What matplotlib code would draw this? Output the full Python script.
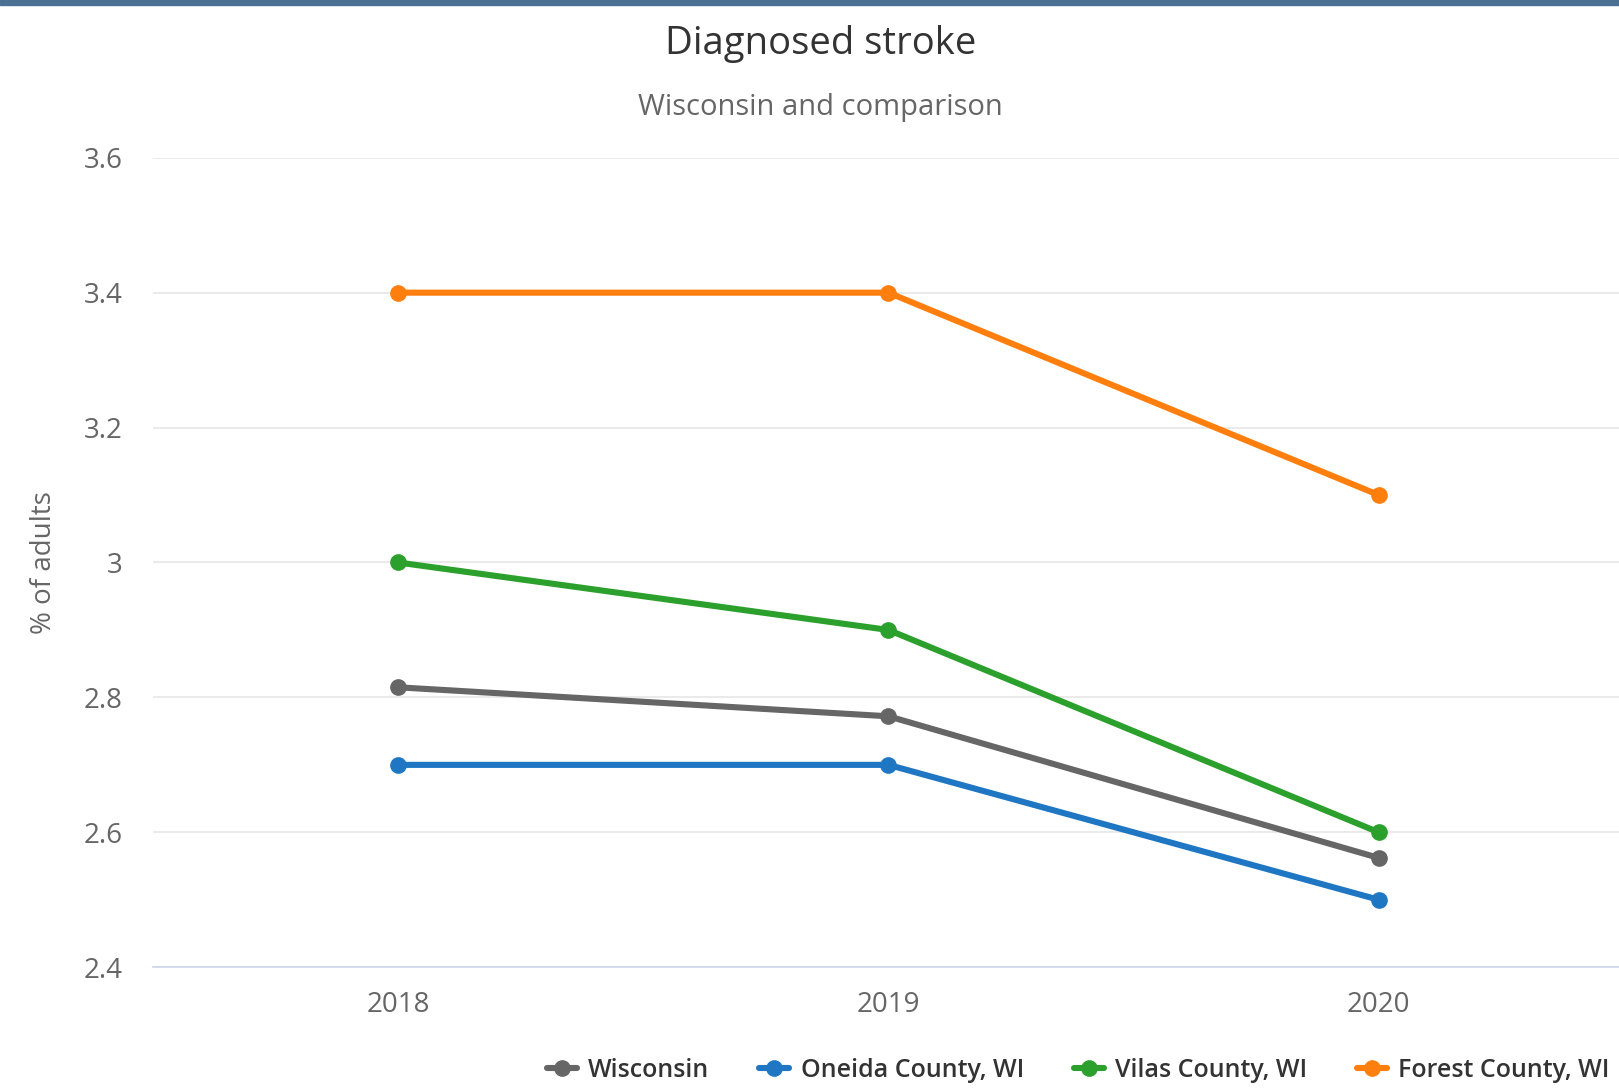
import matplotlib
matplotlib.use('Agg')
import matplotlib.pyplot as plt
from matplotlib.patches import Rectangle

plt.rcParams['font.family'] = ['Open Sans', 'DejaVu Sans']

# 데이터
years = [2018, 2019, 2020]
wisconsin = [2.815, 2.772, 2.562]
oneida = [2.7, 2.7, 2.5]
vilas = [3.0, 2.9, 2.6]
forest = [3.4, 3.4, 3.1]

series = ['Wisconsin', 'Oneida County, WI', 'Vilas County, WI', 'Forest County, WI']
colors = ['#666666', '#1f77c4', '#2ca02c', '#ff7f0e']
y_ticks = [2.4, 2.6, 2.8, 3.0, 3.2, 3.4, 3.6]
y_tick_labels = ['2.4', '2.6', '2.8', '3', '3.2', '3.4', '3.6']

fig = plt.figure(figsize=(16.19, 10.88), dpi=100)
ax = fig.add_axes([0.0945, 0.111, 0.9055, 0.744])

for vals, name, c in zip([wisconsin, oneida, vilas, forest], series, colors):
    ax.plot(years, vals, color=c, lw=4.4, marker='o', ms=11, label=name,
            solid_capstyle='round', zorder=3)

ax.set_xlim(2017.5, 2020.49)
ax.set_ylim(2.4, 3.6)
ax.set_xticks(years)
ax.set_xticklabels([str(y) for y in years])
ax.set_yticks(y_ticks)
ax.set_yticklabels(y_tick_labels)
ax.grid(axis='y', color='#e6e6e6', lw=1.2)
ax.set_axisbelow(True)
for s in ['top', 'right', 'left']:
    ax.spines[s].set_visible(False)
ax.spines['bottom'].set_color('#ccd6eb')
ax.spines['bottom'].set_linewidth(1.2)
ax.tick_params(axis='both', length=0, labelsize=20, labelcolor='#666666')
ax.tick_params(axis='x', pad=17)
ax.tick_params(axis='y', pad=22)
ax.set_ylabel('% of adults', fontsize=20, color='#666666', labelpad=18)

fig.text(0.507, 0.96, 'Diagnosed stroke', ha='center', va='center', fontsize=27.5, color='#333333')
fig.text(0.507, 0.901, 'Wisconsin and comparison', ha='center', va='center', fontsize=21, color='#666666')

# 상단 띠
fig.patches.append(Rectangle((0, 0.9955), 1, 0.0045, transform=fig.transFigure,
                             color='#4a7094', zorder=10))

fig.legend(loc='center', bbox_to_anchor=(0.666, 0.0165), ncol=4, frameon=False,
           prop={'size': 18, 'weight': 'semibold'}, handlelength=1.2, columnspacing=2.0,
           handletextpad=0.45, labelcolor='#333333')

fig.savefig('out.png', dpi=100)
